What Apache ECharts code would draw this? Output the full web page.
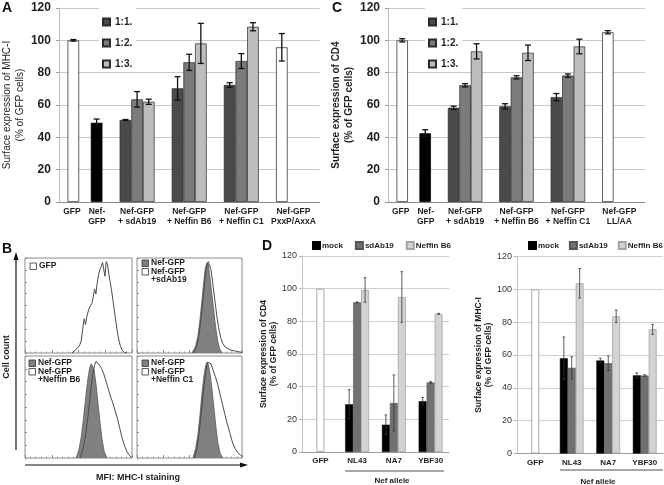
<!DOCTYPE html>
<html><head><meta charset="utf-8">
<script src="https://cdn.jsdelivr.net/npm/echarts@6/dist/echarts.min.js"></script>
<style>html,body{margin:0;padding:0;background:#fff}#c{width:664px;height:485px}</style>
</head><body><div id="c"></div>
<script>
// ---------------- Panel A (MHC-I, ratios) ----------------
const catsA = ['GFP|Nef-\nGFP', 'Nef-GFP\n+ sdAb19', 'Nef-GFP\n+ Neffin B6', 'Nef-GFP\n+ Neffin C1', 'Nef-GFP\nPxxP/AxxA'];
const ratioNames = ['1:1.', '1:2.', '1:3.'];
const a11 = [100, 50.7, 70.3, 72.4, 95.7];
const a11Err = [0.5, 0.3, 7.2, 1.4, 8.5];
const a12 = [null, 63.5, 86.4, 87.2, null];
const a12Err = [null, 4.8, 5.0, 4.6, null];
const a13 = [49, 62, 98.1, 108.4, null];
const a13Err = [2.3, 1.6, 12.4, 2.5, null];
// ---------------- Panel C (CD4, ratios) ----------------
const catsC = ['GFP|Nef-\nGFP', 'Nef-GFP\n+ sdAb19', 'Nef-GFP\n+ Neffin B6', 'Nef-GFP\n+ Neffin C1', 'Nef-GFP\nLL/AA'];
const c11 = [100, 58.3, 59.2, 64.9, 105];
const c11Err = [1.0, 1.0, 1.6, 2.2, 1.0];
const c12 = [null, 72.2, 77.1, 78.2, null];
const c12Err = [null, 1.0, 1.0, 1.0, null];
const c13 = [42.5, 93.2, 92.3, 96.2, null];
const c13Err = [2.2, 4.7, 4.8, 4.5, null];
// ---------------- Panel D (CD4, Nef alleles) ----------------
const catsD = ['GFP', 'NL43', 'NA7', 'YBF30'];
const treatNames = ['mock', 'sdAb19', 'Neffin B6'];
const dMock = [null, 29.2, 16.7, 31.1];
const dMockErr = [null, 9.0, 6.0, 2.3];
const dSd = [100, 91.6, 30.0, 42.6];
const dSdErr = [null, 0.3, 17.2, 0.5];
const dB6 = [null, 99.2, 94.9, 84.6];
const dB6Err = [null, 7.5, 15.5, 0.3];
// ---------------- Panel E (MHC-I, Nef alleles) ----------------
const eMock = [null, 58.0, 56.6, 47.6];
const eMockErr = [null, 13.0, 1.5, 1.5];
const eSd = [100, 52.2, 55.0, 47.5];
const eSdErr = [null, 6.7, 4.4, 0.5];
const eB6 = [null, 103.7, 83.6, 75.6];
const eB6Err = [null, 9.0, 3.8, 3.0];
// ---------------- Panel B (flow histograms: [channel, % of max]) ----------------
const b1Gfp = [[112,0],[120,2.8],[125.6,5.7],[130.4,8.1],[134.4,13.4],[138.4,27.6],[141.6,37.5],[144.8,31.1],[148,39.9],[152,47],[156,51.6],[160,54],[163.2,61.1],[166.4,70],[169.6,64.7],[172.8,77],[176,85.9],[179.2,91.2],[182.4,94.7],[185.6,99],[188.8,98.2],[191.2,84.1],[194.4,100],[197.6,96.5],[200.8,85.9],[204,77],[207.2,68.2],[210.4,57.6],[213.6,47],[216.8,36.4],[220,25.8],[224,15.2],[228,8.1],[232.8,2.8],[237.6,0.7],[244,0]];
const b2Nef = [[134,0],[142,6.4],[148,17],[153,34.6],[158,55.8],[162.5,77],[166.6,93],[170.7,99],[174,96.5],[177,85.9],[182,66.4],[187,47],[192,27.6],[196.7,13.4],[201.5,4.6],[207,0]];
const b2Sd = [[138,0],[146,8.1],[152,22.3],[157,41.7],[161.7,62.9],[166.6,84.1],[170.7,96.5],[174,100],[177,99],[180.4,91.2],[184.5,77],[189.4,59.4],[194.2,41.7],[199,27.6],[204,17],[208.9,10.6],[215.4,6.4],[223.5,4.2],[231.6,2.8],[239.7,2.1],[247.9,1.4],[256,0.7]];
const b3Nef = [[122.4,0],[128.8,8.1],[134.4,21.2],[140,40.7],[144.8,60.3],[149.6,78.2],[154.4,91.2],[158.4,96.1],[161.6,96.7],[165.6,89.6],[170.4,73.3],[175.2,53.7],[180,34.2],[184.8,17.9],[189.6,6.5],[196,0]];
const b3B6 = [[132,0],[140,11.4],[146.4,27.7],[152,47.2],[157.6,70],[162.4,86.3],[166.4,94.5],[170.4,98.7],[174.4,97.7],[178.4,94.5],[183.2,91.2],[188,86.3],[192.8,79.8],[198.4,71.7],[204,63.5],[209.6,57],[215.2,48.9],[220.8,40.7],[226.4,30.9],[232,21.2],[237.6,13],[244,6.5],[250.4,2.3],[256,0.3]];
const b4Nef = [[136.5,0],[143,9.8],[148.7,24.4],[153.6,44],[158.5,66.8],[163.4,84.7],[167.4,94.5],[170.7,97.7],[174,95.4],[178,86.3],[182.9,70],[187.7,50.5],[192.6,30.9],[197.5,14.7],[203.2,4.2],[209.7,0]];
const b4C1 = [[139.8,0],[146.3,9.8],[152,27.7],[157.7,50.5],[163.4,73.3],[168.3,89.6],[172.3,97.7],[176.4,99.3],[180.4,96.1],[185.3,89.6],[191,83.1],[196.7,74.9],[202.4,65.1],[208,55.4],[213.7,45.6],[219.4,35.8],[226,26.1],[232.5,16.3],[239,9.8],[245.4,5.5],[252,2.9],[256,1.6]];
const bLegends = [['GFP'], ['Nef-GFP', 'Nef-GFP\n+sdAb19'], ['Nef-GFP', 'Nef-GFP\n+Neffin B6'], ['Nef-GFP', 'Nef-GFP\n+Neffin C1']];

// ================= rendering =================
const F = 'Liberation Sans, Arial, sans-serif';
const FN = 'Liberation Sans Narrow, Arial Narrow, Liberation Sans, sans-serif';
const TXT = '#1e1e1e';
const ratioColors = ['#4a4a4a', '#7b7b7b', '#bdbdbd'];
const treatColors = ['#000000', '#717171', '#d3d3d3'];
const GAP_AC = 0.33, GAP_DE = 0.35;

function barData(vals, styler) {
  return vals.map((v, i) => v == null ? '-' : { value: v, itemStyle: styler(i) || undefined });
}
function errBars(xi, vals, errs, slot, nSlots, gap, cap, lw, color) {
  const data = [];
  vals.forEach((v, i) => { if (v != null && errs[i] != null) data.push([i, v, errs[i]]); });
  return {
    type: 'custom', xAxisIndex: xi, yAxisIndex: xi, z: 5, silent: true, data,
    encode: { x: 0, y: 1 },
    renderItem(params, api) {
      const c = api.value(0), v = api.value(1), e = api.value(2);
      const band = api.size([1, 0])[0];
      const bw = band * (1 - gap) / nSlots;
      const x = api.coord([c, v])[0] + (slot - (nSlots - 1) / 2) * bw;
      const y1 = api.coord([c, v + e])[1], y0 = api.coord([c, v - e])[1];
      const st = { stroke: color, lineWidth: lw };
      return { type: 'group', children: [
        { type: 'line', shape: { x1: x, y1: y1, x2: x, y2: y0 }, style: st },
        { type: 'line', shape: { x1: x - cap, y1: y1, x2: x + cap, y2: y1 }, style: st },
        { type: 'line', shape: { x1: x - cap, y1: y0, x2: x + cap, y2: y0 }, style: st }
      ] };
    }
  };
}
function catLabelFmt(v) {
  if (v.indexOf('|') < 0) return v;
  const [l, r] = v.split('|');
  const L = l.split('\n'), R = r.split('\n');
  const n = Math.max(L.length, R.length), out = [];
  for (let k = 0; k < n; k++) out.push('{g|' + (L[k] || ' ') + '}{s| }{n|' + (R[k] || ' ') + '}');
  return out.join('\n');
}
const richTok = (w) => ({ width: w, align: 'center', fontSize: 8.5, fontWeight: 'bold', lineHeight: 10, fontFamily: F, color: TXT });

const chart = echarts.init(document.getElementById('c'), null, { renderer: 'canvas' });

const grids = [
  { left: 57, top: 8, width: 262.5, height: 194 },     // A
  { left: 388, top: 8, width: 257, height: 194 },      // C
  { left: 302, top: 256, width: 147, height: 196 },    // D
  { left: 517, top: 256.5, width: 146, height: 197 },  // E
  { left: 25, top: 258, width: 107, height: 95, show: true, borderColor: '#8a8a8a', borderWidth: 1 },
  { left: 137, top: 258, width: 105, height: 95, show: true, borderColor: '#8a8a8a', borderWidth: 1 },
  { left: 25, top: 356, width: 107, height: 102, show: true, borderColor: '#8a8a8a', borderWidth: 1 },
  { left: 137, top: 356, width: 105, height: 102, show: true, borderColor: '#8a8a8a', borderWidth: 1 }
];

function xCatAC(gi, cats) {
  return { gridIndex: gi, type: 'category', data: cats,
    axisLine: { lineStyle: { color: '#8c8c8c', width: 1 } }, axisTick: { show: false },
    axisLabel: { interval: 0, fontSize: 8.5, fontWeight: 'bold', lineHeight: 10, color: TXT, fontFamily: F, margin: 5,
      formatter: catLabelFmt, rich: { g: richTok(22), s: richTok(2), n: richTok(24) } } };
}
function yAC(gi, name, bold, gap) {
  return { gridIndex: gi, type: 'value', min: 0, max: 120, interval: 20,
    axisLine: { show: true, lineStyle: { color: '#bdbdbd' } },
    axisTick: { show: true, length: 3, lineStyle: { color: '#9a9a9a' } },
    splitLine: { lineStyle: { color: '#c9c9c9', width: 1 } },
    axisLabel: { fontSize: 12, fontWeight: 'bold', color: TXT, fontFamily: F, margin: 8 },
    name, nameLocation: 'middle', nameGap: gap, nameRotate: 90,
    nameTextStyle: { fontSize: 10, fontWeight: bold ? 'bold' : 'normal', color: TXT, fontFamily: F, lineHeight: 13 } };
}
function xCatDE(gi) {
  return { gridIndex: gi, type: 'category', data: catsD,
    axisLine: { lineStyle: { color: '#9c9c9c' } }, axisTick: { show: false },
    axisLabel: { interval: 0, fontSize: 8, fontWeight: 'bold', color: TXT, fontFamily: F, margin: 5 } };
}
function yDE(gi, name, gap) {
  return { gridIndex: gi, type: 'value', min: 0, max: 120, interval: 20,
    axisLine: { show: true, lineStyle: { color: '#c4c4c4' } },
    axisTick: { show: true, length: 3, lineStyle: { color: '#b0b0b0' } },
    splitLine: { lineStyle: { color: '#d0d0d0' } },
    axisLabel: { fontSize: 9, color: '#333', fontFamily: FN, margin: 5 },
    name, nameLocation: 'middle', nameGap: gap, nameRotate: 90,
    nameTextStyle: { fontSize: 8.5, fontWeight: 'bold', color: TXT, fontFamily: F, lineHeight: 9.5 } };
}
function xB(gi) {
  return { gridIndex: gi, type: 'value', min: 0, max: 256, interval: 64,
    axisLine: { show: false }, axisTick: { show: true, inside: true, length: 3, lineStyle: { color: '#8a8a8a' } },
    minorTick: { show: true, splitNumber: 5, length: 1.5, lineStyle: { color: '#9a9a9a' } },
    axisLabel: { show: false }, splitLine: { show: false } };
}
function yB(gi) {
  return { gridIndex: gi, type: 'value', min: 0, max: 104, interval: 13,
    axisLine: { show: false }, axisTick: { show: true, inside: true, length: 2, lineStyle: { color: '#8a8a8a' } },
    axisLabel: { show: false }, splitLine: { show: false } };
}

const barBorder = { borderColor: '#2a2a2a', borderWidth: 0.7 };
const whiteBar = { color: '#ffffff', borderColor: '#3a3a3a', borderWidth: 0.8 };
const blackBar = { color: '#000000', borderColor: '#000', borderWidth: 0.7 };

function acSeries(xi, s1, s2, s3, e1, e2, e3) {
  const styl = [
    i => (i === 0 || i === 4) ? whiteBar : null,
    i => null,
    i => i === 0 ? blackBar : null
  ];
  const vals = [s1, s2, s3], errs = [e1, e2, e3];
  const out = [];
  vals.forEach((v, k) => out.push({ type: 'bar', name: ratioNames[k], xAxisIndex: xi, yAxisIndex: xi,
    data: barData(v, styl[k]), barGap: '0%', barCategoryGap: (GAP_AC * 100) + '%',
    itemStyle: Object.assign({ color: ratioColors[k] }, barBorder) }));
  vals.forEach((v, k) => out.push(errBars(xi, v, errs[k], k, 3, GAP_AC, 3, 1.3, '#111')));
  return out;
}
function deSeries(xi, s1, s2, s3, e1, e2, e3) {
  const borders = [{ borderColor: '#000', borderWidth: 0.5 }, { borderColor: '#555', borderWidth: 0.6 }, { borderColor: '#a5a5a5', borderWidth: 0.8 }];
  const gfpBar = { color: '#ffffff', borderColor: '#a0a0a0', borderWidth: 0.9 };
  const vals = [s1, s2, s3], errs = [e1, e2, e3];
  const out = [];
  vals.forEach((v, k) => out.push({ type: 'bar', name: treatNames[k], xAxisIndex: xi, yAxisIndex: xi,
    data: barData(v, i => (k === 1 && i === 0) ? gfpBar : null), barGap: '0%', barCategoryGap: (GAP_DE * 100) + '%',
    itemStyle: Object.assign({ color: treatColors[k] }, borders[k]) }));
  vals.forEach((v, k) => out.push(errBars(xi, v, errs[k], k, 3, GAP_DE, 1.3, 0.8, '#333')));
  return out;
}
function histSeries(gi, data, filled, name) {
  return { type: 'line', name, xAxisIndex: gi, yAxisIndex: gi, data, showSymbol: false, silent: true,
    lineStyle: { color: filled ? '#5a5a5a' : '#4a4a4a', width: filled ? 0.8 : 1 },
    areaStyle: filled ? { color: '#808080', opacity: 1 } : undefined, z: filled ? 2 : 3 };
}

const series = [
  ...acSeries(0, a11, a12, a13, a11Err, a12Err, a13Err),
  ...acSeries(1, c11, c12, c13, c11Err, c12Err, c13Err),
  ...deSeries(2, dMock, dSd, dB6, dMockErr, dSdErr, dB6Err),
  ...deSeries(3, eMock, eSd, eB6, eMockErr, eSdErr, eB6Err),
  histSeries(4, b1Gfp, false, 'GFP '),
  histSeries(5, b2Nef, true, 'Nef-GFP a'), histSeries(5, b2Sd, false, 'sd'),
  histSeries(6, b3Nef, true, 'Nef-GFP b'), histSeries(6, b3B6, false, 'b6'),
  histSeries(7, b4Nef, true, 'Nef-GFP c'), histSeries(7, b4C1, false, 'c1')
];

function ratioLegend(left) {
  return { left, top: 5, orient: 'vertical', icon: 'rect', itemWidth: 7, itemHeight: 7, itemGap: 11,
    padding: [12, 4, 3, 3], backgroundColor: '#ffffff', selectedMode: false, data: ratioNames,
    textStyle: { fontSize: 10, fontWeight: 'bold', color: TXT, fontFamily: F } };
}
function treatLegend(left, gap) {
  return { left, top: 241, width: 150, orient: 'horizontal', icon: 'rect', itemWidth: 7, itemHeight: 7, itemGap: gap,
    padding: 0, selectedMode: false, data: treatNames,
    textStyle: { fontSize: 8, fontWeight: 'bold', color: TXT, fontFamily: F, padding: [0, 0, 0, -3] } };
}

// B panel legend boxes (positions from the four histogram grids)
const bLegendGraphics = [];
const bAnch = [[30, 263], [142, 260], [29, 360], [142, 360]];
bLegends.forEach((items, p) => {
  const [x0, y0] = bAnch[p];
  let y = y0;
  items.forEach((txt, k) => {
    const white = (p === 0) || k === 1;
    bLegendGraphics.push({ type: 'rect', shape: { x: x0, y: y, width: 6.5, height: 6.5 },
      style: { fill: white ? '#fff' : '#808080', stroke: '#333', lineWidth: 0.8 } });
    bLegendGraphics.push({ type: 'text', x: x0 + 9, y: y - 1,
      style: { text: txt, fill: TXT, font: 'bold 8.5px ' + F, textVerticalAlign: 'top', lineHeight: 8, textAlign: 'left' } });
    y += 8.5;
  });
});

const labelFont = 'bold 14px ' + F;
const option = {
  animation: false,
  backgroundColor: '#ffffff',
  grid: grids,
  xAxis: [xCatAC(0, catsA), xCatAC(1, catsC), xCatDE(2), xCatDE(3), xB(4), xB(5), xB(6), xB(7)],
  yAxis: [
    yAC(0, 'Surface expression of MHC-I\n(% of GFP cells)', false, 28),
    yAC(1, 'Surface expression of CD4\n(% of GFP cells)', true, 32),
    yDE(2, 'Surface expression of CD4\n(% of GFP cells)', 14),
    yDE(3, 'Surface expression of MHC-I\n(% of GFP cells)', 20),
    yB(4), yB(5), yB(6), yB(7)
  ],
  legend: [ratioLegend(99), ratioLegend(425), treatLegend(312, 12), treatLegend(528, 10)],
  series,
  graphic: [
    { type: 'text', x: 2, y: 1, style: { text: 'A', font: labelFont, fill: '#111' } },
    { type: 'text', x: 332, y: 1, style: { text: 'C', font: labelFont, fill: '#111' } },
    { type: 'text', x: 2, y: 242, style: { text: 'B', font: labelFont, fill: '#111' } },
    { type: 'text', x: 262, y: 239, style: { text: 'D', font: labelFont, fill: '#111' } },
    // B axes arrows
    { type: 'line', shape: { x1: 16, y1: 450, x2: 16, y2: 256 }, style: { stroke: '#111', lineWidth: 1.2 } },
    { type: 'polygon', shape: { points: [[16, 252], [13.5, 260], [18.5, 260]] }, style: { fill: '#111' } },
    { type: 'line', shape: { x1: 25, y1: 465, x2: 243, y2: 465 }, style: { stroke: '#111', lineWidth: 1.2 } },
    { type: 'polygon', shape: { points: [[248, 465], [240, 462.5], [240, 467.5]] }, style: { fill: '#111' } },
    { type: 'text', x: 7, y: 357, rotation: Math.PI / 2, style: { text: 'Cell count', font: 'bold 9px ' + F, fill: TXT, textAlign: 'center', textVerticalAlign: 'middle' } },
    { type: 'text', x: 138, y: 478, style: { text: 'MFI: MHC-I staining', font: 'bold 9px ' + F, fill: TXT, textAlign: 'center', textVerticalAlign: 'middle' } },
    // Nef allele brackets
    { type: 'line', shape: { x1: 345, y1: 471, x2: 444, y2: 471 }, style: { stroke: '#222', lineWidth: 0.8 } },
    { type: 'text', x: 392, y: 481, style: { text: 'Nef allele', font: 'bold 8px ' + F, fill: TXT, textAlign: 'center', textVerticalAlign: 'middle' } },
    { type: 'line', shape: { x1: 560, y1: 470, x2: 663, y2: 470 }, style: { stroke: '#222', lineWidth: 0.8 } },
    { type: 'text', x: 598, y: 482, style: { text: 'Nef allele', font: 'bold 8px ' + F, fill: TXT, textAlign: 'center', textVerticalAlign: 'middle' } },
    ...bLegendGraphics
  ]
};
chart.setOption(option);
</script>
</body></html>
